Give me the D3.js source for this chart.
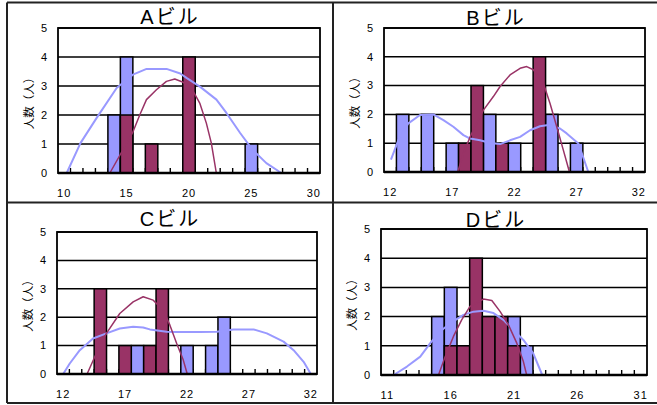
<!DOCTYPE html>
<html>
<head>
<meta charset="utf-8">
<script src="https://cdn.jsdelivr.net/npm/d3@7"></script>
<style>
  html, body { margin: 0; padding: 0; background: #fff; }
  svg { display: block; }
  text { font-family: "Liberation Sans", Arial, "Noto Sans CJK JP", sans-serif; fill: #000; }
  .jp { font-family: "Liberation Sans", Arial, "Noto Sans CJK JP", sans-serif; }
</style>
</head>
<body>
<svg id="chart" width="657" height="405"></svg>
<script>
// ---- data -------------------------------------------------------------
const yTicks = [0, 1, 2, 3, 4, 5];

// A building
const catsA   = [10,11,12,13,14,15,16,17,18,19,20,21,22,23,24,25,26,27,28,29,30];
const blueA   = [0,0,0,0,2,4,0,0,0,0,0,0,0,0,0,1,0,0,0,0,0];
const maroonA = [0,0,0,0,0,2,0,1,0,0,4,0,0,0,0,0,0,0,0,0,0];
const labelsA = [10, 15, 20, 25, 30];
const blueCurveA = [[10.2,0],[11.3,1.03],[12.6,1.9],[14.2,2.93],[15.5,3.39],[16.6,3.59],[18.2,3.59],[19.3,3.43],[19.8,3.28],[20.9,2.97],[22.2,2.53],[23.0,2.07],[24.1,1.38],[25.1,0.8],[26.2,0.34],[27.4,0]];
const maroonCurveA = [[13.66,0],[15.47,1.38],[16.06,2.01],[16.59,2.53],[17.39,2.87],[18.19,3.16],[18.86,3.24],[19.53,3.13],[20.33,2.82],[20.86,2.41],[21.39,1.72],[21.79,1.03],[22.19,0]];

// B building
const catsB   = [12,13,14,15,16,17,18,19,20,21,22,23,24,25,26,27,28,29,30,31,32];
const blueB   = [0,2,0,2,0,1,0,0,2,0,1,0,0,2,0,1,0,0,0,0,0];
const maroonB = [0,0,0,0,0,0,1,3,0,1,0,0,4,0,0,0,0,0,0,0,0];
const labelsB = [12, 17, 22, 27, 32];
const blueCurveB = [[12.06,0.43],[12.65,1.1],[13.46,1.69],[14.4,1.98],[15.47,2.0],[16.28,1.8],[17.08,1.57],[17.89,1.28],[18.43,1.16],[19.23,1.1],[20.03,1.01],[20.84,0.97],[21.64,1.1],[22.45,1.22],[23.25,1.45],[24.05,1.59],[24.72,1.63],[25.66,1.51],[26.2,1.34],[27.14,0.99],[27.94,0]];
const maroonCurveB = [[17.43,0],[17.89,0.64],[18.43,1.22],[18.96,1.69],[19.5,2.15],[20.3,2.62],[20.84,2.97],[21.64,3.37],[22.45,3.6],[22.98,3.66],[23.52,3.55],[24.32,3.08],[24.86,2.38],[25.4,1.57],[25.93,0.76],[26.42,0]];

// C building
const catsC   = [12,13,14,15,16,17,18,19,20,21,22,23,24,25,26,27,28,29,30,31,32];
const blueC   = [0,0,0,0,0,0,1,0,0,0,1,0,1,2,0,0,0,0,0,0,0];
const maroonC = [0,0,0,3,0,1,0,1,3,0,0,0,0,0,0,0,0,0,0,0,0];
const labelsC = [12, 17, 22, 27, 32];
const blueCurveC = [[12.0,0],[12.53,0.37],[13.34,0.84],[14.41,1.25],[15.49,1.43],[16.57,1.6],[17.65,1.66],[18.46,1.64],[19.0,1.57],[20.35,1.49],[21.16,1.48],[23.05,1.48],[24.4,1.49],[25.75,1.57],[27.37,1.57],[28.45,1.43],[29.8,1.14],[30.61,0.84],[31.42,0.43],[32.0,0]];
const maroonCurveC = [[13.93,0],[14.68,0.73],[15.49,1.43],[16.57,2.13],[17.65,2.54],[18.46,2.72],[19.27,2.6],[20.08,2.25],[20.62,1.72],[21.16,1.08],[21.7,0.49],[22.02,0]];

// D building
const catsD   = [11,12,13,14,15,16,17,18,19,20,21,22,23,24,25,26,27,28,29,30,31];
const blueD   = [0,0,0,0,2,3,0,0,0,0,2,1,0,0,0,0,0,0,0,0,0];
const maroonD = [0,0,0,0,0,1,1,4,2,2,1,0,0,0,0,0,0,0,0,0,0];
const labelsD = [11, 16, 21, 26, 31];
const blueCurveD = [[11.5,0],[12.55,0.29],[13.6,0.63],[14.39,1.09],[15.17,1.49],[15.96,1.77],[17.01,2.06],[17.8,2.17],[18.59,2.2],[19.38,2.12],[20.16,1.89],[20.95,1.54],[21.74,1.2],[22.52,0.74],[23.23,0]];
const maroonCurveD = [[15.04,0],[15.57,0.63],[16.22,1.32],[16.87,1.89],[17.53,2.35],[18.59,2.6],[19.25,2.55],[19.91,2.17],[20.56,1.72],[21.22,1.09],[21.74,0.46],[22.0,0]];

const titles = ["Aビル", "Bビル", "Cビル", "Dビル"];
const yTitle = "人数（人）";

// ---- layout & style ---------------------------------------------------
const BLUE = "#9999ff";
const MAROON = "#993366";

const panels = [
  { title: titles[0], cats: catsA, blue: blueA, maroon: maroonA, labels: labelsA, bc: blueCurveA, mc: maroonCurveA,
    plot: { x0: 58, x1: 320, y0: 28, y1: 173 }, cx: 170, ty: 24 },
  { title: titles[1], cats: catsB, blue: blueB, maroon: maroonB, labels: labelsB, bc: blueCurveB, mc: maroonCurveB,
    plot: { x0: 384, x1: 645, y0: 28, y1: 172 }, cx: 496, ty: 25 },
  { title: titles[2], cats: catsC, blue: blueC, maroon: maroonC, labels: labelsC, bc: blueCurveC, mc: maroonCurveC,
    plot: { x0: 57, x1: 317, y0: 232, y1: 374 }, cx: 170, ty: 226 },
  { title: titles[3], cats: catsD, blue: blueD, maroon: maroonD, labels: labelsD, bc: blueCurveD, mc: maroonCurveD,
    plot: { x0: 381, x1: 647, y0: 229, y1: 375 }, cx: 496, ty: 227 }
];

const svg = d3.select("#chart");

// outer frame and dividers
const frame = svg.append("g").attr("stroke", "#222").attr("stroke-width", 2).attr("fill", "none");
frame.append("line").attr("x1", 7).attr("x2", 657).attr("y1", 2.5).attr("y2", 2.5);
frame.append("line").attr("x1", 7).attr("x2", 657).attr("y1", 403).attr("y2", 403);
frame.append("line").attr("x1", 7).attr("x2", 7).attr("y1", 2.5).attr("y2", 403);
frame.append("line").attr("x1", 333).attr("x2", 333).attr("y1", 2.5).attr("y2", 403);
frame.append("line").attr("x1", 7).attr("x2", 657).attr("y1", 202.5).attr("y2", 202.5);

panels.forEach(p => {
  const g = svg.append("g");
  const { x0, x1, y0, y1 } = p.plot;

  const xBand = d3.scaleBand().domain(p.cats).range([x0, x1]).padding(0);
  const xNum = d3.scaleLinear()
    .domain([p.cats[0] - 0.5, p.cats[p.cats.length - 1] + 0.5])
    .range([x0, x1]);
  const y = d3.scaleLinear().domain([0, 5]).range([y1, y0]);

  // gridlines
  g.append("g").selectAll("line").data(yTicks.filter(t => t > 0)).join("line")
    .attr("x1", x0).attr("x2", x1)
    .attr("y1", d => y(d)).attr("y2", d => y(d))
    .attr("stroke", "#000").attr("stroke-width", 1.5);

  // category tick marks on the bottom axis (between categories, pointing inward)
  const bounds = p.cats.slice(1).map(c => c - 0.5);
  g.append("g").selectAll("line").data(bounds).join("line")
    .attr("x1", d => xNum(d)).attr("x2", d => xNum(d))
    .attr("y1", y1).attr("y2", y1 - 5)
    .attr("stroke", "#000").attr("stroke-width", 1.4);

  // bars: blue series behind, maroon series in front (full overlap)
  const drawBars = (vals, color) => {
    const rows = p.cats.map((c, i) => ({ c, v: vals[i] })).filter(d => d.v > 0);
    g.append("g").selectAll("rect").data(rows).join("rect")
      .attr("x", d => xBand(d.c))
      .attr("width", xBand.bandwidth())
      .attr("y", d => y(d.v))
      .attr("height", d => y(0) - y(d.v))
      .attr("fill", color)
      .attr("stroke", "#000").attr("stroke-width", 1.5);
  };
  drawBars(p.blue, BLUE);
  drawBars(p.maroon, MAROON);

  // fitted curves
  const line = d3.line().x(d => xNum(d[0])).y(d => y(d[1]));
  g.append("path").datum(p.bc).attr("d", line)
    .attr("fill", "none").attr("stroke", BLUE).attr("stroke-width", 2).attr("stroke-linejoin", "round");
  g.append("path").datum(p.mc).attr("d", line)
    .attr("fill", "none").attr("stroke", MAROON).attr("stroke-width", 1.5).attr("stroke-linejoin", "round");

  // plot area border
  g.append("rect").attr("x", x0).attr("y", y0).attr("width", x1 - x0).attr("height", y1 - y0)
    .attr("fill", "none").attr("stroke", "#000").attr("stroke-width", 1.8);
  g.append("line").attr("x1", x0).attr("x2", x1).attr("y1", y1).attr("y2", y1)
    .attr("stroke", "#000").attr("stroke-width", 2.4);

  // y tick labels
  g.append("g").selectAll("text").data(yTicks).join("text")
    .attr("x", x0 - 11).attr("y", d => y(d)).attr("dy", "0.35em")
    .attr("text-anchor", "end").attr("font-size", 11)
    .text(d => d);

  // x tick labels
  g.append("g").selectAll("text").data(p.labels).join("text")
    .attr("x", d => xBand(d) + xBand.bandwidth() / 2).attr("y", y1 + 24)
    .attr("text-anchor", "middle").attr("font-size", 11).attr("letter-spacing", 1)
    .text(d => d);

  // y axis title
  g.append("text").attr("class", "jp")
    .attr("transform", `translate(${x0 - 29},${(y0 + y1) / 2}) rotate(-90)`)
    .attr("text-anchor", "middle").attr("dy", "0.35em").attr("font-size", 11.5)
    .text(yTitle);

  // chart title
  g.append("text").attr("class", "jp")
    .attr("x", p.cx).attr("y", p.ty)
    .attr("text-anchor", "middle").attr("font-size", 20).attr("letter-spacing", 2)
    .text(p.title);
});
</script>
</body>
</html>
